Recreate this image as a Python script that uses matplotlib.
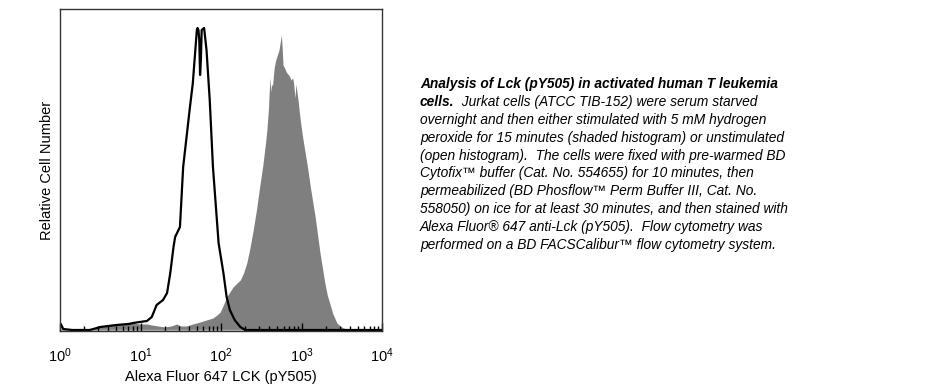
import numpy as np
import matplotlib
matplotlib.use("Agg")
import matplotlib.pyplot as plt
from matplotlib.ticker import LogLocator, NullFormatter

plt.rcParams['font.family'] = ['Liberation Sans', 'DejaVu Sans']
plt.rcParams['mathtext.fontset'] = 'custom'
plt.rcParams['mathtext.rm'] = 'Liberation Sans'
plt.rcParams['mathtext.it'] = 'Liberation Sans:italic'

# open histogram (unstimulated), log10 of fluorescence vs relative count
open_log = [0.0, 0.01, 0.04, 0.15, 0.37, 0.50, 0.70, 0.85, 0.91, 0.99, 1.08, 1.14,
            1.20, 1.28, 1.33, 1.37, 1.41, 1.43, 1.49, 1.53, 1.61, 1.65, 1.70, 1.71,
            1.72, 1.73, 1.74, 1.75, 1.76, 1.79, 1.82, 1.86, 1.90, 1.97, 2.03, 2.07,
            2.11, 2.17, 2.24, 2.30, 4.0]
open_cnt = [2, 6, 1, 0, 0, 3, 5, 6, 7, 8, 9, 13,
            25, 30, 37, 57, 83, 93, 103, 163, 220, 247, 300, 302,
            300, 290, 255, 270, 300, 302, 280, 230, 163, 87, 57, 33,
            20, 10, 3, 0, 0]

# shaded histogram (H2O2 stimulated)
shaded_log = [0.0, 0.29, 0.40, 0.50, 0.62, 0.75, 0.88, 1.00, 1.08, 1.14, 1.22, 1.30,
              1.38, 1.45, 1.50, 1.57, 1.65, 1.74, 1.82, 1.90, 1.95, 1.99, 2.03, 2.07,
              2.11, 2.15, 2.20, 2.24, 2.28, 2.32, 2.36, 2.40, 2.44, 2.48, 2.52, 2.55,
              2.57, 2.59, 2.60, 2.61, 2.62, 2.63, 2.64, 2.66, 2.68, 2.70, 2.72, 2.73,
              2.74, 2.75, 2.76, 2.77, 2.79, 2.81, 2.83, 2.85, 2.87, 2.89, 2.90, 2.91,
              2.92, 2.93, 2.94, 2.96, 2.98, 3.01, 3.04, 3.08, 3.11, 3.14, 3.17, 3.20,
              3.23, 3.26, 3.29, 3.32, 3.35, 3.39, 3.44, 3.48, 3.52, 3.58, 3.64, 4.0]
shaded_cnt = [0, 0, 2, 3, 5, 6, 7, 6, 6, 5, 4, 3,
              4, 6, 4, 4, 6, 8, 10, 12, 15, 18, 25, 33,
              38, 43, 47, 50, 57, 67, 82, 100, 120, 143, 165, 185,
              200, 222, 240, 252, 238, 246, 244, 262, 270, 275, 280, 285,
              290, 295, 282, 265, 262, 258, 256, 254, 250, 252, 248, 240,
              232, 246, 240, 228, 213, 195, 180, 160, 143, 128, 113, 95,
              77, 62, 47, 35, 27, 16, 7, 4, 2, 1, 0, 0]

x_ticks = [0, 1, 2, 3, 4]

caption = [
    "overnight and then either stimulated with 5 mM hydrogen",
    "peroxide for 15 minutes (shaded histogram) or unstimulated",
    "(open histogram).  The cells were fixed with pre-warmed BD",
    "Cytofix\u2122 buffer (Cat. No. 554655) for 10 minutes, then",
    "permeabilized (BD Phosflow\u2122 Perm Buffer III, Cat. No.",
    "558050) on ice for at least 30 minutes, and then stained with",
    "Alexa Fluor\u00ae 647 anti-Lck (pY505).  Flow cytometry was",
    "performed on a BD FACSCalibur\u2122 flow cytometry system.",
]

fig = plt.figure(figsize=(9.26, 3.9), dpi=100)
ax = fig.add_axes([60 / 926, 59 / 390, 322 / 926, 322 / 390])

sx = 10 ** np.array(shaded_log)
ox = 10 ** np.array(open_log)
ax.fill_between(sx, 0, shaded_cnt, color='#7f7f7f', lw=0, zorder=1)
ax.plot(sx, np.zeros_like(sx), color='#bbbbbb', lw=1, zorder=1.5)
ax.plot(ox, open_cnt, color='black', lw=1.6, zorder=2)

ax.set_xscale('log')
ax.set_xlim(1, 1e4)
ax.set_ylim(-1, 321)
ax.set_xticks([10 ** t for t in x_ticks])
ax.xaxis.set_minor_locator(LogLocator(base=10, subs=np.arange(2, 10)))
ax.xaxis.set_minor_formatter(NullFormatter())
ax.tick_params(axis='x', which='major', direction='in', length=6, width=1,
               labelsize=10.5, pad=11, top=False)
ax.tick_params(axis='x', which='minor', direction='in', length=3.5, width=1, top=False)
ax.set_yticks([])
for s in ax.spines.values():
    s.set_color('#333333')
    s.set_linewidth(1)

ax.set_xlabel('Alexa Fluor 647 LCK (pY505)', fontsize=10.5, labelpad=4)
ax.set_ylabel('Relative Cell Number', fontsize=10.5, labelpad=4)

# caption block
fx = 420 / 926
y0 = 1 - 84 / 390
dy = 17.9 / 390
fs = 9.9
fig.text(fx, y0, "Analysis of Lck (pY505) in activated human T leukemia",
         fontsize=fs, fontweight='bold', style='italic', va='center')
t = fig.text(fx, y0 - dy, "cells.", fontsize=fs, fontweight='bold', style='italic',
             va='center')
fig.canvas.draw()
bb = t.get_window_extent()
fig.text(bb.x1 / fig.bbox.width, y0 - dy,
         "  Jurkat cells (ATCC TIB-152) were serum starved",
         fontsize=fs, style='italic', va='center')
for i, line in enumerate(caption):
    fig.text(fx, y0 - dy * (i + 2), line, fontsize=fs, style='italic', va='center')

fig.savefig('out.png', dpi=100)
